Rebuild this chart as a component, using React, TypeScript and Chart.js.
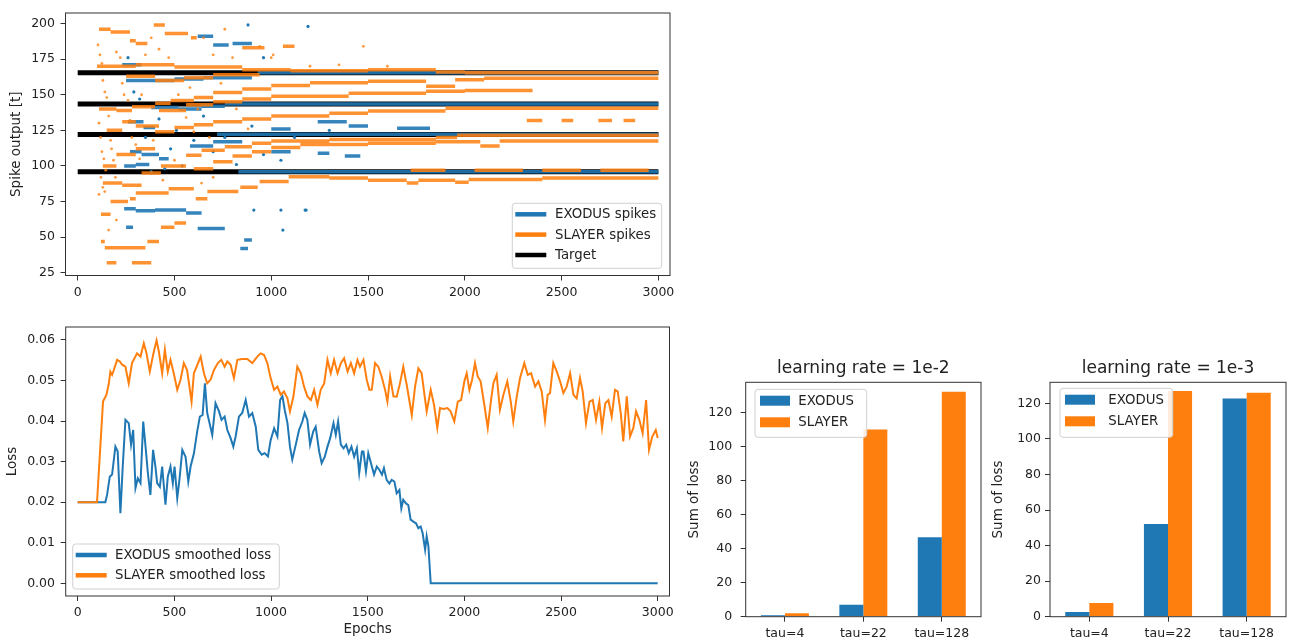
import React, { useEffect, useRef } from 'react';
import { Chart, registerables } from 'chart.js';

Chart.register(...registerables);

const W = 1294;
const H = 644;
const BLUE = '#1f77b4';
const ORANGE = '#ff7f0e';
const INK = '#222222';
const FONT = "'DejaVu Sans', sans-serif";

// ---------- data ----------
const EPOCH_TICKS = [0, 500, 1000, 1500, 2000, 2500, 3000];
const SPIKE_TICKS = [25, 50, 75, 100, 125, 150, 175, 200];
const LOSS_TICKS = [0, 0.01, 0.02, 0.03, 0.04, 0.05, 0.06];
const BAR_TICKS = [0, 20, 40, 60, 80, 100, 120];

const TARGET_TIMES = [96, 122, 143.5, 165.5];

// spike segments: [startEpoch, endEpoch, spikeTime]
const SLAYER_SEGMENTS = [
  [150, 200, 32], [280, 380, 32],
  [120, 140, 47], [140, 350, 42.5], [360, 420, 47], [430, 500, 57], [500, 560, 60],
  [610, 670, 77], [670, 830, 82], [840, 930, 85], [940, 1090, 89], [1090, 1300, 92.5],
  [1300, 1500, 91.5], [1500, 1700, 90], [1700, 1760, 88], [1760, 1950, 90], [1950, 2020, 88.5],
  [2020, 2400, 90.5], [2400, 3000, 91.5],
  [120, 170, 66], [170, 260, 75], [270, 300, 77], [300, 470, 81], [470, 600, 84], [600, 700, 98],
  [700, 800, 103], [800, 900, 107], [900, 1000, 110], [1000, 1150, 113], [1150, 1500, 115],
  [1500, 1850, 116], [1850, 2080, 117], [2080, 2180, 114], [2180, 3000, 117.5],
  [130, 230, 88], [230, 330, 86.5], [330, 430, 95], [430, 560, 100], [560, 640, 107.5],
  [640, 760, 111], [760, 900, 113.5], [900, 1000, 116], [1000, 1300, 117.5], [1300, 1850, 118.5],
  [1850, 1960, 120], [1960, 3000, 121.5],
  [130, 200, 100], [200, 300, 108], [300, 400, 112], [400, 500, 124], [500, 600, 127],
  [600, 700, 129], [700, 850, 131], [850, 1000, 133], [1000, 1300, 135], [1300, 1500, 137],
  [1500, 1900, 138.5], [1900, 3000, 140.5],
  [150, 230, 125], [230, 300, 131], [300, 420, 128], [420, 560, 139], [560, 700, 143],
  [700, 850, 145], [850, 1000, 147], [1000, 1400, 149], [1400, 1800, 151], [1800, 2000, 152.5],
  [2000, 2350, 153],
  [110, 200, 140], [200, 280, 139], [280, 400, 141.5], [400, 480, 144], [480, 600, 146],
  [600, 700, 148], [700, 850, 151.5], [850, 1000, 154], [1000, 1200, 156.5], [1200, 1500, 158.5],
  [1500, 1800, 159.5], [1800, 1950, 156], [1950, 2100, 160.5], [2100, 3000, 161.5],
  [100, 300, 170], [300, 500, 171], [500, 850, 169.5], [850, 1100, 167.5], [1100, 1500, 166.8],
  [1500, 1850, 167.5], [1850, 2000, 166], [2000, 3000, 165.5],
  [250, 400, 163], [400, 550, 160], [550, 700, 162], [700, 940, 164],
  [110, 170, 196], [170, 270, 194], [270, 300, 188], [300, 360, 186], [393, 450, 199],
  [450, 570, 193], [585, 615, 190], [850, 965, 183], [1060, 1120, 184],
  [1720, 1900, 97], [2050, 2300, 97], [2400, 2600, 97], [2700, 2950, 97],
  [2320, 2400, 132], [2500, 2560, 132], [2690, 2760, 132], [2820, 2880, 132],
];

const SLAYER_DOTS = [
  [1476, 184], [1000, 176], [940, 184], [1010, 178], [120, 92], [140, 82],
  [105, 185], [115, 178], [125, 172], [130, 160], [140, 152], [150, 148], [160, 135], [170, 118],
  [175, 112], [185, 104], [195, 92], [110, 130], [118, 120], [125, 110], [135, 105], [145, 97],
  [200, 180], [220, 176], [240, 150], [260, 146], [280, 120], [300, 115], [320, 105], [350, 178],
  [380, 190], [420, 182], [470, 176], [520, 150], [560, 134], [600, 124], [650, 190], [700, 178],
  [760, 196], [800, 176], [640, 88], [700, 92], [130, 85], [110, 80], [200, 62], [160, 55],
  [230, 158], [270, 132], [330, 150], [390, 118], [440, 90], [500, 104], [580, 155], [620, 140],
  [680, 120], [740, 158], [820, 140], [880, 126], [1200, 170], [1350, 171], [1600, 170],
];

const EXODUS_SEGMENTS = [
  [930, 3000, 165.5], [760, 3000, 143.5], [720, 3000, 122.2], [830, 3000, 96],
  [240, 300, 70], [300, 400, 68.5], [400, 560, 69], [560, 640, 67],
  [620, 760, 56], [250, 286, 57], [840, 880, 42], [860, 900, 48],
  [380, 520, 141], [520, 640, 140], [640, 760, 142],
  [260, 340, 131], [340, 400, 127],
  [270, 330, 110], [330, 420, 108], [420, 470, 105],
  [240, 300, 100], [300, 370, 101],
  [580, 700, 114], [700, 850, 117],
  [1000, 1100, 126], [1240, 1390, 131], [1400, 1500, 128], [1650, 1820, 126.5],
  [1000, 1100, 110], [1240, 1300, 109], [1380, 1460, 107],
  [250, 500, 160], [500, 650, 161], [650, 900, 162],
  [230, 330, 171], [620, 700, 191], [700, 780, 185], [800, 900, 186],
];

const EXODUS_DOTS = [
  [880, 199], [1190, 198], [960, 176], [910, 69], [1050, 69], [1060, 55], [1180, 69], [1175, 69],
  [260, 176], [290, 152], [320, 147], [350, 120], [380, 96], [420, 133], [450, 98], [480, 112],
  [510, 125], [540, 100], [600, 118], [650, 135], [700, 110], [760, 120], [820, 101], [900, 128],
  [960, 108], [1050, 104], [1120, 120], [1300, 125],
];

// smoothed loss: [epoch, loss]
const EXODUS_LOSS = [
  [0, 0.02], [143, 0.02], [152, 0.0218], [166, 0.0263], [178, 0.0268], [195, 0.0337], [207, 0.0325],
  [221, 0.0173], [233, 0.0288], [247, 0.0403], [264, 0.0395], [276, 0.0342], [287, 0.0378],
  [299, 0.0235], [311, 0.0259], [325, 0.0247], [339, 0.0399], [351, 0.0337], [363, 0.0272],
  [376, 0.0218], [390, 0.0329], [402, 0.0288], [411, 0.0247], [425, 0.0238], [437, 0.0288],
  [454, 0.0194], [466, 0.0263], [480, 0.0288], [492, 0.0247], [501, 0.0288], [515, 0.021],
  [527, 0.0259], [541, 0.0329], [558, 0.0312], [572, 0.0251], [584, 0.0288], [601, 0.032],
  [618, 0.0374], [632, 0.0411], [646, 0.0415], [658, 0.0493], [670, 0.042], [682, 0.0395],
  [696, 0.0366], [713, 0.0444], [731, 0.0424], [744, 0.0403], [760, 0.0411], [774, 0.0378],
  [791, 0.0358], [805, 0.0337], [817, 0.0362], [834, 0.0411], [851, 0.042], [869, 0.0452],
  [886, 0.0411], [903, 0.042], [921, 0.0386], [934, 0.0329], [952, 0.0317], [967, 0.0321],
  [984, 0.0313], [998, 0.0353], [1016, 0.0382], [1033, 0.0362], [1047, 0.0452], [1059, 0.0461],
  [1071, 0.0427], [1085, 0.0395], [1098, 0.0337], [1110, 0.0305], [1128, 0.0342], [1145, 0.0378],
  [1162, 0.0399], [1174, 0.042], [1188, 0.0403], [1202, 0.0342], [1218, 0.0374], [1231, 0.0386],
  [1249, 0.0325], [1262, 0.0296], [1278, 0.0312], [1292, 0.0337], [1306, 0.0358], [1323, 0.0395],
  [1335, 0.0366], [1347, 0.0399], [1361, 0.0342], [1375, 0.0333], [1389, 0.0342], [1402, 0.0321],
  [1416, 0.0337], [1430, 0.0312], [1444, 0.0333], [1456, 0.0272], [1470, 0.0325], [1478, 0.0325],
  [1491, 0.0276], [1503, 0.0321], [1517, 0.0296], [1533, 0.0268], [1547, 0.0288], [1560, 0.028],
  [1574, 0.0268], [1584, 0.0284], [1598, 0.0255], [1612, 0.0246], [1624, 0.0255], [1638, 0.0251],
  [1650, 0.0222], [1664, 0.023], [1674, 0.0185], [1684, 0.0206], [1698, 0.0197], [1710, 0.0193],
  [1722, 0.0157], [1736, 0.0152], [1750, 0.0148], [1762, 0.0136], [1774, 0.014], [1784, 0.0124],
  [1797, 0.0083], [1805, 0.0116], [1814, 0.0091], [1826, 0.0], [3000, 0.0],
];

const SLAYER_LOSS = [
  [0, 0.02], [100, 0.02], [131, 0.0448], [149, 0.0465], [161, 0.0493], [169, 0.0522], [178, 0.0514],
  [187, 0.0526], [204, 0.0551], [218, 0.0547], [230, 0.0539], [247, 0.0534], [264, 0.0493],
  [281, 0.0543], [307, 0.0567], [325, 0.0559], [342, 0.0592], [356, 0.0567], [373, 0.0522],
  [390, 0.0563], [408, 0.0599], [420, 0.0571], [437, 0.0518], [451, 0.0576], [466, 0.0522],
  [480, 0.0551], [497, 0.0518], [515, 0.0477], [532, 0.0502], [549, 0.0543], [566, 0.0526],
  [589, 0.0448], [601, 0.0518], [615, 0.0534], [636, 0.0559], [653, 0.0518], [670, 0.0493],
  [687, 0.0502], [705, 0.0526], [725, 0.0543], [743, 0.0551], [760, 0.0534], [774, 0.0547],
  [791, 0.0539], [808, 0.0506], [826, 0.0551], [851, 0.0553], [877, 0.0553], [903, 0.0543],
  [929, 0.0559], [946, 0.0567], [964, 0.0563], [981, 0.0543], [998, 0.0506], [1016, 0.0477],
  [1033, 0.0485], [1050, 0.0465], [1067, 0.0473], [1085, 0.0456], [1098, 0.0424], [1116, 0.0461],
  [1136, 0.0534], [1154, 0.0518], [1171, 0.0485], [1188, 0.0461], [1206, 0.0452], [1223, 0.0477],
  [1240, 0.044], [1257, 0.0477], [1275, 0.0493], [1292, 0.0551], [1309, 0.0518], [1326, 0.0551],
  [1344, 0.0518], [1361, 0.0543], [1378, 0.0555], [1396, 0.0522], [1413, 0.0543], [1430, 0.0518],
  [1447, 0.0551], [1460, 0.0534], [1478, 0.0551], [1495, 0.0502], [1509, 0.0477], [1521, 0.0477],
  [1538, 0.0543], [1555, 0.0534], [1572, 0.051], [1590, 0.0477], [1602, 0.0448], [1616, 0.051],
  [1633, 0.0461], [1650, 0.046], [1667, 0.0493], [1684, 0.0534], [1702, 0.0489], [1728, 0.0415],
  [1745, 0.0485], [1762, 0.053], [1779, 0.0518], [1805, 0.0424], [1826, 0.0477], [1843, 0.044],
  [1860, 0.0383], [1874, 0.0432], [1891, 0.043], [1912, 0.0432], [1929, 0.0424], [1948, 0.0399],
  [1966, 0.0448], [1983, 0.0452], [2000, 0.0498], [2012, 0.0518], [2026, 0.0477], [2040, 0.0502],
  [2055, 0.0543], [2069, 0.051], [2084, 0.0498], [2102, 0.0444], [2121, 0.0383], [2138, 0.0452],
  [2150, 0.0493], [2167, 0.0514], [2184, 0.0428], [2202, 0.0465], [2222, 0.0498], [2240, 0.0448],
  [2253, 0.0399], [2271, 0.0461], [2288, 0.0506], [2310, 0.0543], [2328, 0.0514], [2345, 0.0518],
  [2366, 0.0485], [2383, 0.0498], [2400, 0.0473], [2417, 0.0403], [2431, 0.0465], [2443, 0.0469],
  [2460, 0.0543], [2478, 0.0522], [2495, 0.0498], [2512, 0.0469], [2529, 0.0485], [2547, 0.0518],
  [2564, 0.0465], [2581, 0.0456], [2598, 0.0506], [2612, 0.0473], [2629, 0.0395], [2647, 0.0448],
  [2664, 0.0452], [2681, 0.0403], [2698, 0.0448], [2712, 0.0383], [2729, 0.0444], [2745, 0.0452],
  [2762, 0.0411], [2779, 0.0477], [2793, 0.0473], [2809, 0.0419], [2822, 0.035], [2840, 0.0461],
  [2857, 0.0362], [2874, 0.0383], [2888, 0.0424], [2905, 0.0403], [2922, 0.037], [2940, 0.0452],
  [2955, 0.0329], [2972, 0.0362], [2990, 0.0378], [3000, 0.0358],
];

const TAU_LABELS = ['tau=4', 'tau=22', 'tau=128'];
const LR2_EXODUS = [0.8, 7, 46.7];
const LR2_SLAYER = [2, 110.2, 132.3];
const LR3_EXODUS = [2.6, 52.1, 122.8];
const LR3_SLAYER = [7.7, 127, 126];

// ---------- helpers ----------
const segPoints = (segs: number[][]) => {
  const pts: any[] = [];
  for (const [a, b, t] of segs) {
    pts.push({ x: a, y: t }, { x: b, y: t }, { x: b, y: null });
  }
  return pts;
};
const pairPoints = (arr: number[][]) => arr.map(([x, y]) => ({ x, y }));
const fixTicks = (vals: number[]) => (s: any) => {
  s.ticks = vals.map((v) => ({ value: v }));
};

const tickFont = { family: FONT, size: 12.5 };
const titleFont = { family: FONT, size: 13.5 };

const framePlugin = {
  id: 'frame',
  afterDatasetsDraw(chart: any) {
    const { ctx, chartArea: a } = chart;
    ctx.save();
    ctx.strokeStyle = '#333';
    ctx.lineWidth = 1;
    ctx.strokeRect(a.left, a.top, a.right - a.left, a.bottom - a.top);
    ctx.restore();
  },
};

type LegendCfg = {
  anchor: 'lowerRight' | 'lowerLeft' | 'upperLeft';
  dx: number;
  dy: number;
  w: number;
  h: number;
  rows: number[];
  hx0: number;
  hx1: number;
  tx: number;
  kind: 'line' | 'rect';
  items: { label: string; color: string }[];
};

const makeLegend = (cfg: LegendCfg) => ({
  id: 'mplLegend',
  afterDraw(chart: any) {
    const { ctx, chartArea: a } = chart;
    let left = 0;
    let top = 0;
    if (cfg.anchor === 'lowerRight') {
      left = a.right - cfg.dx - cfg.w;
      top = a.bottom - cfg.dy - cfg.h;
    } else if (cfg.anchor === 'lowerLeft') {
      left = a.left + cfg.dx;
      top = a.bottom - cfg.dy - cfg.h;
    } else {
      left = a.left + cfg.dx;
      top = a.top + cfg.dy;
    }
    ctx.save();
    ctx.beginPath();
    const r = 3;
    ctx.moveTo(left + r, top);
    ctx.arcTo(left + cfg.w, top, left + cfg.w, top + cfg.h, r);
    ctx.arcTo(left + cfg.w, top + cfg.h, left, top + cfg.h, r);
    ctx.arcTo(left, top + cfg.h, left, top, r);
    ctx.arcTo(left, top, left + cfg.w, top, r);
    ctx.closePath();
    ctx.fillStyle = 'rgba(255,255,255,0.85)';
    ctx.fill();
    ctx.strokeStyle = '#d0d0d0';
    ctx.lineWidth = 1;
    ctx.stroke();
    ctx.font = `13.3px ${FONT}`;
    ctx.textBaseline = 'middle';
    ctx.textAlign = 'left';
    cfg.items.forEach((it, i) => {
      const y = top + cfg.rows[i];
      if (cfg.kind === 'line') {
        ctx.strokeStyle = it.color;
        ctx.lineWidth = 4.5;
        ctx.beginPath();
        ctx.moveTo(left + cfg.hx0, y);
        ctx.lineTo(left + cfg.hx1, y);
        ctx.stroke();
      } else {
        ctx.fillStyle = it.color;
        ctx.fillRect(left + cfg.hx0, y - 5, cfg.hx1 - cfg.hx0, 10);
      }
      ctx.fillStyle = INK;
      ctx.fillText(it.label, left + cfg.tx, y + 0.5);
    });
    ctx.restore();
  },
});

const axisCommon = (tickPad: number) => ({
  grid: { display: true, drawOnChartArea: false, drawTicks: true, tickLength: 5, color: '#333', tickWidth: 1 },
  border: { display: false },
  ticks: { font: tickFont, color: INK, padding: tickPad, autoSkip: false, maxRotation: 0, minRotation: 0 },
});

const baseOptions = (padding: any) => ({
  responsive: false,
  maintainAspectRatio: false,
  devicePixelRatio: 1,
  animation: false as const,
  events: [] as any[],
  layout: { padding },
  plugins: { legend: { display: false }, tooltip: { enabled: false }, title: { display: false } },
});

// ---------- chart configs ----------
function spikeConfig(): any {
  const ticksX = axisCommon(4.5);
  const ticksY = axisCommon(5.5);
  return {
    type: 'line',
    data: {
      datasets: [
        ...TARGET_TIMES.map((t, i) => ({
          label: i === 0 ? 'Target' : '',
          data: [{ x: 0, y: t }, { x: 3000, y: t }],
          borderColor: '#000',
          borderWidth: 5,
          pointRadius: 0,
          order: 3,
        })),
        {
          label: 'EXODUS spikes',
          data: segPoints(EXODUS_SEGMENTS),
          borderColor: 'rgba(31,119,180,0.9)',
          borderWidth: 3.5,
          pointRadius: 0,
          spanGaps: false,
          order: 2,
        },
        {
          label: 'EXODUS dots',
          data: pairPoints(EXODUS_DOTS),
          showLine: false,
          pointRadius: 1.6,
          backgroundColor: BLUE,
          borderWidth: 0,
          order: 2,
        },
        {
          label: 'SLAYER spikes',
          data: segPoints(SLAYER_SEGMENTS),
          borderColor: 'rgba(255,127,14,0.85)',
          borderWidth: 3.5,
          pointRadius: 0,
          spanGaps: false,
          order: 1,
        },
        {
          label: 'SLAYER dots',
          data: pairPoints(SLAYER_DOTS),
          showLine: false,
          pointRadius: 1.4,
          backgroundColor: 'rgba(255,127,14,0.8)',
          borderWidth: 0,
          order: 1,
        },
      ],
    },
    options: {
      ...baseOptions({ left: 0, top: 7.5, right: W - 670, bottom: 0 }),
      scales: {
        x: {
          type: 'linear',
          min: -63,
          max: 3060,
          afterBuildTicks: fixTicks(EPOCH_TICKS),
          afterFit: (s: any) => { s.height = H - 275.5; },
          ...ticksX,
          ticks: { ...ticksX.ticks, callback: (v: any) => String(v) },
        },
        y: {
          type: 'linear',
          min: 23.07,
          max: 207.4,
          afterBuildTicks: fixTicks(SPIKE_TICKS),
          afterFit: (s: any) => { s.width = 65.5; },
          ...ticksY,
          ticks: { ...ticksY.ticks, callback: (v: any) => String(v) },
          title: { display: true, text: 'Spike output [t]', font: titleFont, color: INK, padding: { top: 8, bottom: 0 } },
        },
      },
    },
    plugins: [
      framePlugin,
      makeLegend({
        anchor: 'lowerRight', dx: 8.3, dy: 7.2, w: 149.4, h: 65, rows: [11, 31.3, 51.7],
        hx0: 3, hx1: 34, tx: 42.7, kind: 'line',
        items: [
          { label: 'EXODUS spikes', color: BLUE },
          { label: 'SLAYER spikes', color: ORANGE },
          { label: 'Target', color: '#000' },
        ],
      }),
    ],
  };
}

function lossConfig(): any {
  const ticksX = axisCommon(4);
  const ticksY = axisCommon(5.7);
  return {
    type: 'line',
    data: {
      datasets: [
        {
          label: 'EXODUS smoothed loss',
          data: pairPoints(EXODUS_LOSS),
          borderColor: BLUE,
          borderWidth: 2,
          pointRadius: 0,
          order: 2,
        },
        {
          label: 'SLAYER smoothed loss',
          data: pairPoints(SLAYER_LOSS),
          borderColor: ORANGE,
          borderWidth: 2,
          pointRadius: 0,
          order: 1,
        },
      ],
    },
    options: {
      ...baseOptions({ left: 0, top: 327, right: W - 669.5, bottom: 0 }),
      scales: {
        x: {
          type: 'linear',
          min: -62,
          max: 3061,
          afterBuildTicks: fixTicks(EPOCH_TICKS),
          afterFit: (s: any) => { s.height = H - 596; },
          ...ticksX,
          ticks: { ...ticksX.ticks, callback: (v: any) => String(v) },
          title: { display: true, text: 'Epochs', font: titleFont, color: INK, padding: { top: 0, bottom: 6 } },
        },
        y: {
          type: 'linear',
          min: -0.00313,
          max: 0.0632,
          afterBuildTicks: fixTicks(LOSS_TICKS),
          afterFit: (s: any) => { s.width = 65.7; },
          ...ticksY,
          ticks: { ...ticksY.ticks, callback: (v: any) => Number(v).toFixed(2) },
          title: { display: true, text: 'Loss', font: titleFont, color: INK, padding: { top: 3.9, bottom: 0 } },
        },
      },
    },
    plugins: [
      framePlugin,
      makeLegend({
        anchor: 'lowerLeft', dx: 7, dy: 7, w: 206.6, h: 45, rows: [11, 31.3],
        hx0: 3, hx1: 34, tx: 42.3, kind: 'line',
        items: [
          { label: 'EXODUS smoothed loss', color: BLUE },
          { label: 'SLAYER smoothed loss', color: ORANGE },
        ],
      }),
    ],
  };
}

function barConfig(
  title: string, exodus: number[], slayer: number[], ymax: number,
  padLeft: number, plotLeft: number, plotRight: number, yTitlePad: number, yTickPad: number,
  legend: { dx: number; dy: number; w: number; h: number; tx: number },
): any {
  const ticksX = axisCommon(5);
  const ticksY = axisCommon(yTickPad);
  const titleH = 17 * 1.2 + 4;
  return {
    type: 'bar',
    data: {
      labels: TAU_LABELS,
      datasets: [
        { label: 'EXODUS', data: exodus, backgroundColor: BLUE, borderWidth: 0, categoryPercentage: 0.612, barPercentage: 1.0 },
        { label: 'SLAYER', data: slayer, backgroundColor: ORANGE, borderWidth: 0, categoryPercentage: 0.612, barPercentage: 1.0 },
      ],
    },
    options: {
      ...baseOptions({ left: padLeft, top: 382.3 - titleH, right: W - plotRight, bottom: 0 }),
      plugins: {
        legend: { display: false },
        tooltip: { enabled: false },
        title: {
          display: true,
          text: title,
          fullSize: false,
          font: { family: FONT, size: 17, weight: 'normal' },
          color: INK,
          padding: { top: 0, bottom: 4 },
        },
      },
      scales: {
        x: {
          type: 'category',
          offset: true,
          afterFit: (s: any) => { s.height = H - 616.7; },
          ...ticksX,
          grid: { ...ticksX.grid, offset: false },
        },
        y: {
          type: 'linear',
          min: 0,
          max: ymax,
          afterBuildTicks: fixTicks(BAR_TICKS),
          afterFit: (s: any) => { s.width = plotLeft - padLeft; },
          ...ticksY,
          ticks: { ...ticksY.ticks, callback: (v: any) => String(v) },
          title: { display: true, text: 'Sum of loss', font: titleFont, color: INK, padding: { top: yTitlePad, bottom: 0 } },
        },
      },
    },
    plugins: [
      framePlugin,
      makeLegend({
        anchor: 'upperLeft', dx: legend.dx, dy: legend.dy, w: legend.w, h: legend.h, rows: [11.4, 33],
        hx0: 5, hx1: 35, tx: legend.tx, kind: 'rect',
        items: [
          { label: 'EXODUS', color: BLUE },
          { label: 'SLAYER', color: ORANGE },
        ],
      }),
    ],
  };
}

// ---------- components ----------
function Layer({ make }: { make: () => any }) {
  const ref = useRef<HTMLCanvasElement | null>(null);
  useEffect(() => {
    if (!ref.current) return;
    const chart = new Chart(ref.current, make());
    return () => chart.destroy();
  }, [make]);
  return (
    <canvas
      ref={ref}
      width={W}
      height={H}
      style={{ position: 'absolute', left: 0, top: 0, width: W, height: H }}
    />
  );
}

const makeSpike = () => spikeConfig();
const makeLoss = () => lossConfig();
const makeBar2 = () =>
  barConfig('learning rate = 1e-2', LR2_EXODUS, LR2_SLAYER, 137.9, 685, 745.7, 981, 0.9, 8.5,
    { dx: 9.3, dy: 7, w: 111.7, h: 48, tx: 43.3 });
const makeBar3 = () =>
  barConfig('learning rate = 1e-3', LR3_EXODUS, LR3_SLAYER, 131.9, 990, 1050, 1286, 0, 4,
    { dx: 10, dy: 6, w: 112.7, h: 49, tx: 48.3 });

export default function App() {
  return (
    <div style={{ position: 'absolute', left: 0, top: 0, width: W, height: H, background: '#fff' }}>
      <Layer make={makeSpike} />
      <Layer make={makeLoss} />
      <Layer make={makeBar2} />
      <Layer make={makeBar3} />
    </div>
  );
}
